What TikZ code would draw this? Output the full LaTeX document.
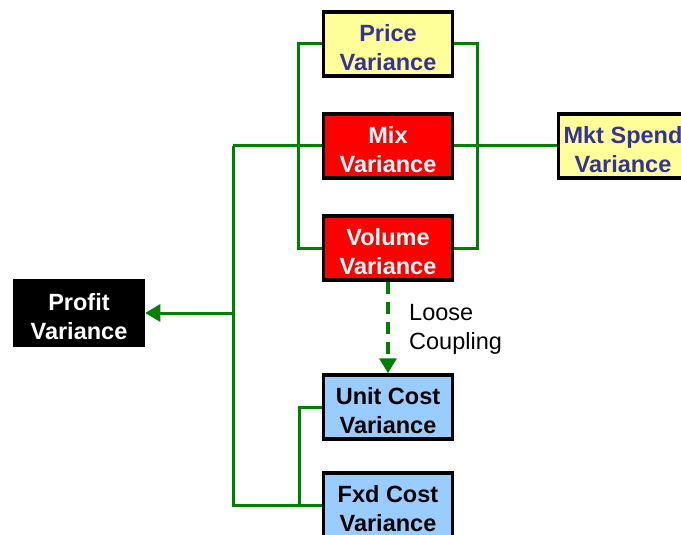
\documentclass[tikz,border=0pt]{standalone}
\usepackage{fontspec}
\setmainfont{Liberation Sans}
\usetikzlibrary{arrows.meta}
\definecolor{gline}{HTML}{008000}
\definecolor{ylw}{HTML}{FFFF99}
\definecolor{navy}{HTML}{333399}
\definecolor{lblue}{HTML}{99CCFF}
\newcommand{\topstrut}{\rule{0pt}{23.5pt}}
\tikzset{
  box/.style={draw=black,line width=3.5pt,minimum width=129pt,minimum height=64pt,inner sep=0pt,align=center,font=\fontsize{23.5}{29}\selectfont\bfseries},
  ybox/.style={box,fill=ylw,text=navy},
  rbox/.style={box,fill=red,text=white},
  bbox/.style={box,fill=lblue,text=black},
  kbox/.style={box,fill=black,text=white},
  conn/.style={draw=gline,line width=3pt},
  dconn/.style={draw=gline,line width=3.2pt,dash pattern=on 12pt off 8pt,-{Triangle[length=15pt,width=17pt]}},
}
\begin{document}
\begin{tikzpicture}[x=1pt,y=-1pt]
\clip (0,0) rectangle (681,535);
\fill[white] (0,0) rectangle (681,535);
\coordinate (trunk) at (233,146);
\coordinate (ub) at (299,505);
\node[ybox] (price) at (388,44) {\topstrut Price\\Variance};
\node[rbox] (mix) at (388,146) {\topstrut Mix\\Variance};
\node[rbox] (volume) at (388,248) {\topstrut Volume\\Variance};
\node[bbox] (unit) at (388,407) {\topstrut Unit Cost\\Variance};
\node[bbox] (fxd) at (388,505) {\topstrut Fxd Cost\\Variance};
\node[ybox] (mkt) at (623,146) {\topstrut Mkt Spend\\Variance};
\node[kbox] (profit) at (79,313) {\topstrut Profit\\Variance};
\node[anchor=north west,inner sep=0pt,align=left,font=\fontsize{23.5}{29}\selectfont] (lc) at (409,304) {Loose\\Coupling};
\draw[conn] (price.west) -- ++(-23,0) |- (volume.west);
\draw[conn] (price.east) -- ++(23,0) |- (volume.east);
\draw[conn] (mix.west) -- (trunk);
\draw[conn] (mix.east) -- (mkt.west);
\draw[conn] (trunk) |- (fxd.west);
\draw[conn] (unit.west) -| (ub);
\draw[conn,-{Triangle[length=15pt,width=17pt]}] (trunk |- profit) -- (profit.east);
\draw[dconn] (volume.south) -- (unit.north);
\end{tikzpicture}
\end{document}
